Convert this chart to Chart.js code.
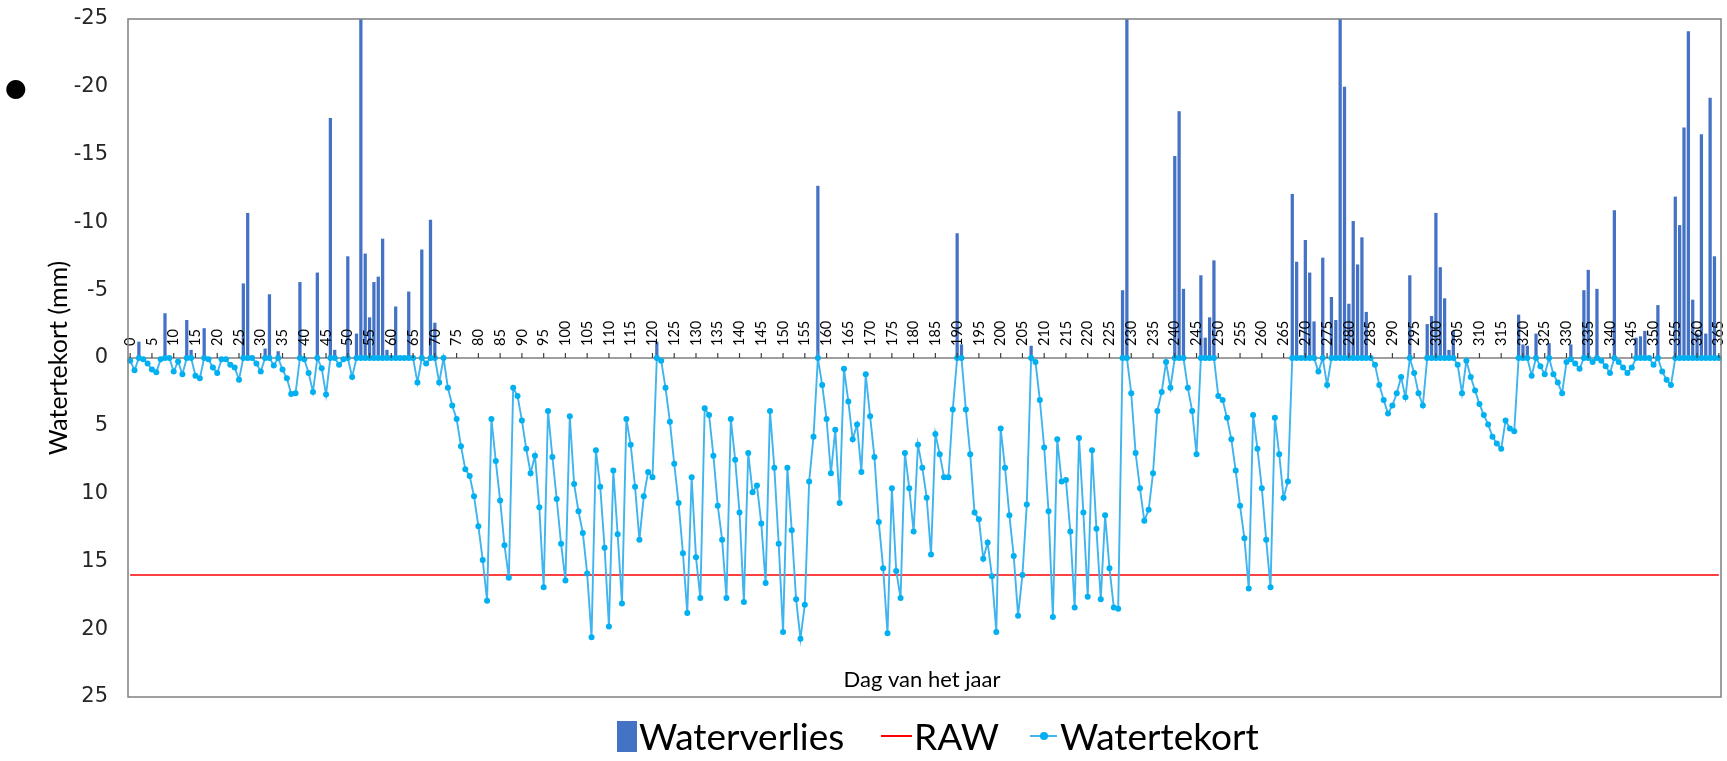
<!DOCTYPE html>
<html>
<head>
<meta charset="utf-8">
<script src="https://cdn.jsdelivr.net/npm/chart.js@4.4.1/dist/chart.umd.min.js"></script>
<style>
  body { margin: 0; background: #fff; }
  #wrap { position: relative; width: 1727px; height: 761px; }
  #bullet { position: absolute; left: 5px; top: 73px; font: 25px "DejaVu Sans"; color: #000; }
  .lg { position: absolute; font: 37px Lato, sans-serif; color: #000; line-height: 44px; top: 714px; white-space: nowrap; }
</style>
</head>
<body>
<div id="wrap">
  <canvas id="chart"></canvas>
  <div id="bullet">●</div>
  <div id="legend"></div>
</div>
<script>
// day of year 0..365
const days = Array.from({ length: 366 }, (_, i) => i);
const xTickLabels = days.filter(d => d % 5 === 0);
const yTicks = [-25, -20, -15, -10, -5, 0, 5, 10, 15, 20, 25];

// Watertekort (mm), one value per day
const watertekort = [
  0.2, 0.9, 0, 0.1, 0.4, 0.85, 1.05, 0.1, 0, 0,          // 0
  1.0, 0.25, 1.2, 0, 0, 1.3, 1.5, 0, 0.1, 0.7,           // 10
  1.1, 0.1, 0.1, 0.5, 0.7, 1.6, 0, 0, 0, 0.4,            // 20
  1.0, 0, 0, 0.55, 0, 0.85, 1.5, 2.65, 2.6, 0,           // 30
  0.1, 1.1, 2.5, 0, 0.75, 2.7, 0, 0, 0.5, 0.1,           // 40
  0, 1.4, 0, 0, 0, 0, 0, 0, 0, 0,                        // 50
  0, 0, 0, 0, 0, 0, 1.8, 0, 0.4, 0,                      // 60
  0, 1.8, 0, 2.2, 3.5, 4.5, 6.5, 8.2, 8.7, 10.2,         // 70
  12.4, 14.9, 17.9, 4.5, 7.6, 10.5, 13.8, 16.2, 2.2, 2.8, // 80
  4.6, 6.7, 8.5, 7.2, 11.0, 16.9, 3.9, 7.3, 10.4, 13.7,  // 90
  16.4, 4.3, 9.3, 11.3, 12.9, 15.9, 20.6, 6.8, 9.5, 14.0, // 100
  19.8, 8.3, 13.0, 18.1, 4.5, 6.4, 9.5, 13.4, 10.2, 8.4, // 110
  8.8, 0, 0.2, 2.2, 4.7, 7.8, 10.7, 14.4, 18.8, 8.8,     // 120
  14.7, 17.7, 3.7, 4.2, 7.2, 10.9, 13.4, 17.7, 4.5, 7.5, // 130
  11.4, 18.0, 7.0, 9.9, 9.4, 12.2, 16.6, 3.9, 8.1, 13.7, // 140
  20.2, 8.1, 12.7, 17.8, 20.7, 18.2, 9.1, 5.8, 0, 2.0,   // 150
  4.5, 8.5, 5.3, 10.7, 0.8, 3.2, 6.0, 4.9, 8.4, 1.2,     // 160
  4.3, 7.3, 12.1, 15.5, 20.3, 9.6, 15.7, 17.7, 7.0, 9.6, // 170
  12.8, 6.4, 8.1, 10.3, 14.5, 5.6, 7.1, 8.8, 8.8, 3.8,   // 180
  0, 0, 3.8, 7.1, 11.4, 11.9, 14.8, 13.6, 16.1, 20.2,    // 190
  5.2, 8.1, 11.6, 14.6, 19.0, 16.0, 10.8, 0, 0.3, 3.1,   // 200
  6.6, 11.3, 19.1, 6.0, 9.1, 9.0, 12.8, 18.4, 5.9, 11.4, // 210
  17.6, 6.8, 12.6, 17.8, 11.6, 15.5, 18.4, 18.5, 0, 0,   // 220
  2.6, 7.0, 9.6, 12.0, 11.2, 8.5, 3.9, 2.5, 0.3, 2.2,    // 230
  0, 0, 0, 2.2, 3.9, 7.1, 0, 0, 0, 0,                    // 240
  2.8, 3.1, 4.4, 6.0, 8.3, 10.9, 13.3, 17.0, 4.2, 6.7,   // 250
  9.6, 13.4, 16.9, 4.4, 7.1, 10.3, 9.1, 0, 0, 0,         // 260
  0, 0, 0, 1.0, 0, 2.0, 0, 0, 0, 0,                      // 270
  0, 0, 0, 0, 0, 0, 0.5, 2.0, 3.1, 4.1,                  // 280
  3.5, 2.6, 1.4, 2.9, 0, 1.1, 2.6, 3.5, 0, 0,            // 290
  0, 0, 0, 0, 0, 0.5, 2.6, 0.2, 1.4, 2.4,                // 300
  3.4, 4.2, 4.9, 5.8, 6.3, 6.7, 4.6, 5.2, 5.4, 0,        // 310
  0, 0, 1.3, 0, 0.6, 1.2, 0, 1.2, 1.8, 2.6,              // 320
  0.3, 0.1, 0.4, 0.8, 0, 0, 0.3, 0, 0.2, 0.6,            // 330
  1.1, 0, 0.3, 0.7, 1.1, 0.7, 0, 0, 0, 0,                // 340
  0.5, 0, 1.0, 1.6, 2.0, 0, 0, 0, 0, 0,                  // 350
  0, 0, 0, 0, 0, 0                                       // 360
];

// Waterverlies (mm): only the days with a loss
const verliesDays = [
  2, 8, 13, 14, 17, 26, 27, 31, 32, 34, 39, 43, 46, 47, 50, 52, 53, 54, 55, 56, 57, 58, 59, 61, 64, 67, 69, 70,
  121, 158, 190, 191, 207, 228, 229, 240, 241, 242, 246, 247, 248, 249,
  267, 268, 270, 271, 272, 274, 276, 277, 278, 279, 280, 281, 282, 283, 284,
  294, 298, 299, 300, 301, 302, 303, 304, 319, 320, 321, 323, 326, 331, 334, 335, 337, 341,
  346, 347, 348, 351, 355, 356, 357, 358, 359, 360, 361, 362, 363, 364
];
const verliesMm = [
  -1.2, -3.3, -2.8, -0.6, -2.2, -5.5, -10.7, -0.7, -4.7, -0.5, -5.6, -6.3, -17.7, -0.6, -7.5, -1.8, -27, -7.7, -3.0, -5.6, -6.0, -8.8, -0.6, -3.8, -4.9, -8.0, -10.2, -2.6,
  -1.2, -12.7, -9.2, -1.0, -0.9, -5.0, -27, -14.9, -18.2, -5.1, -6.1, -1.5, -3.0, -7.2,
  -12.1, -7.1, -8.7, -6.3, -2.7, -7.4, -4.5, -2.8, -27, -20.0, -4.0, -10.1, -6.9, -8.9, -3.4,
  -6.1, -2.5, -3.1, -10.7, -6.7, -4.4, -0.6, -2.0, -3.2, -1.0, -0.9, -1.8, -1.1, -1.0, -5.0, -6.5, -5.1, -10.9,
  -1.5, -1.6, -2.0, -3.9, -11.9, -9.8, -17.0, -24.1, -4.3, -1.8, -16.5, -1.8, -19.2, -7.5
];

const rawLevel = 16;

const waterverlies = days.map(() => null);
verliesDays.forEach((d, i) => { waterverlies[d] = verliesMm[i]; });
const rawLine = days.map(() => rawLevel);

// axis line, day ticks (above the zero line), border and x title
const axisDecor = {
  id: 'axisDecor',
  beforeDatasetsDraw(chart) {
    const { ctx, chartArea: a, scales: { y } } = chart;
    const y0 = y.getPixelForValue(0);
    ctx.save();
    ctx.strokeStyle = '#404040';
    ctx.lineWidth = 1.2;
    ctx.beginPath();
    ctx.moveTo(a.left, y0);
    ctx.lineTo(a.right, y0);
    ctx.stroke();
    ctx.restore();
  },
  afterDatasetsDraw(chart) {
    const { ctx, chartArea: a, scales: { x, y } } = chart;
    const y0 = y.getPixelForValue(0);
    ctx.save();
    ctx.strokeStyle = '#404040';
    ctx.lineWidth = 1.2;
    ctx.fillStyle = '#000';
    ctx.font = '14.5px Lato';
    ctx.textAlign = 'left';
    ctx.textBaseline = 'middle';
    xTickLabels.forEach(d => {
      const px = x.getPixelForValue(d);
      ctx.beginPath();
      ctx.moveTo(px, y0 - 5);
      ctx.lineTo(px, y0);
      ctx.stroke();
      ctx.save();
      ctx.translate(px, y0 - 12);
      ctx.rotate(-Math.PI / 2);
      ctx.fillText(String(d), 0, 0);
      ctx.restore();
    });

    ctx.strokeStyle = '#7f7f7f';
    ctx.lineWidth = 1.5;
    ctx.strokeRect(a.left, a.top, a.right - a.left, a.bottom - a.top);

    ctx.font = '22px Lato';
    ctx.textAlign = 'center';
    ctx.fillText('Dag van het jaar', 922, 680);
    ctx.restore();
  }
};

const chart = new Chart(document.getElementById('chart'), {
  type: 'bar',
  data: {
    labels: days,
    datasets: [
      {
        label: 'Waterverlies',
        data: waterverlies,
        backgroundColor: '#4472C4',
        barPercentage: 0.75,
        categoryPercentage: 1,
        order: 3
      },
      {
        type: 'line',
        label: 'RAW',
        data: rawLine,
        borderColor: '#ff0000',
        borderWidth: 1.5,
        pointRadius: 0,
        order: 2
      },
      {
        type: 'line',
        label: 'Watertekort',
        data: watertekort,
        borderColor: '#3fb4ee',
        borderWidth: 1.9,
        pointRadius: 3,
        pointBackgroundColor: '#00b0f0',
        pointBorderColor: '#00b0f0',
        pointBorderWidth: 0,
        order: 1
      }
    ]
  },
  options: {
    responsive: true,
    maintainAspectRatio: false,
    devicePixelRatio: 1,
    animation: false,
    layout: { padding: { left: 0, right: 6, top: 19, bottom: 64 } },
    plugins: { legend: { display: false }, tooltip: { enabled: false } },
    scales: {
      x: { display: false },
      y: {
        reverse: true,
        min: yTicks[0],
        max: yTicks[yTicks.length - 1],
        afterBuildTicks: scale => { scale.ticks = yTicks.map(v => ({ value: v })); },
        afterFit: scale => { scale.width = 128; },
        grid: { display: false, drawTicks: true, tickLength: 20 },
        border: { display: false },
        ticks: { padding: 0, color: '#262626', font: { family: 'DejaVu Sans', size: 21 } },
        title: {
          display: true,
          text: 'Watertekort (mm)',
          color: '#000',
          font: { family: 'Lato', size: 25 },
          padding: { top: 44, bottom: 0 }
        }
      }
    }
  },
  plugins: [axisDecor]
});

// legend, laid out like the original
const legend = document.getElementById('legend');
legend.innerHTML = `
  <div style="position:absolute;left:617px;top:721px;width:20px;height:31px;background:#4472C4"></div>
  <div class="lg" style="left:639px">Waterverlies</div>
  <div style="position:absolute;left:881px;top:735px;width:31px;height:2px;background:#ff0000"></div>
  <div class="lg" style="left:914px">RAW</div>
  <div style="position:absolute;left:1030px;top:735px;width:27px;height:2px;background:#3fb4ee"></div>
  <div style="position:absolute;left:1040px;top:732px;width:8px;height:8px;border-radius:50%;background:#00b0f0"></div>
  <div class="lg" style="left:1060px">Watertekort</div>`;
</script>
</body>
</html>
